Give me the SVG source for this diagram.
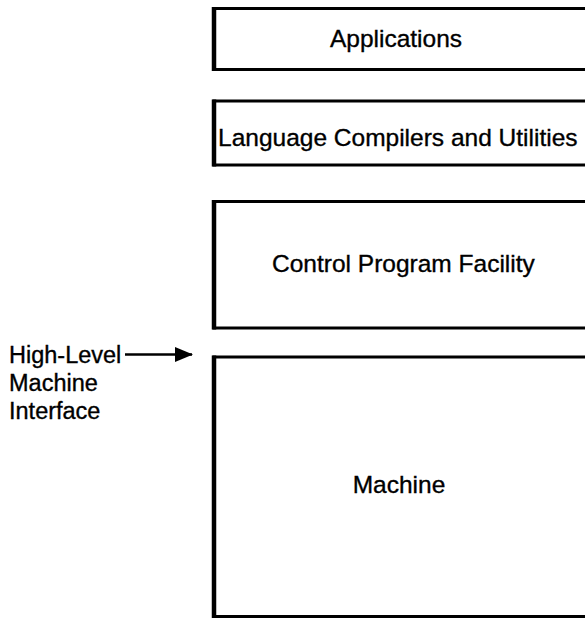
<svg xmlns="http://www.w3.org/2000/svg" width="585" height="618" viewBox="0 0 585 618">
  <style>
    .box { fill: #ffffff; stroke: #000000; stroke-width: 3; }
    .edge { stroke: #000000; stroke-width: 4.5; }
    .lbl { font-family: "Liberation Sans", Arial, sans-serif; font-size: 24.5px; fill: #000000; stroke: #000000; stroke-width: 0.35; }
    .side { font-size: 23.5px; }
    .link { stroke: #000000; stroke-width: 2.4; fill: none; }
  </style>
  <defs>
    <marker id="head" markerWidth="18" markerHeight="15" refX="17" refY="7.5" orient="auto" markerUnits="userSpaceOnUse">
      <path d="M0,0 L18,7.5 L0,15 Z" fill="#000000"/>
    </marker>
  </defs>
  <rect width="585" height="618" fill="#ffffff"/>

  <!-- layered system stack; boxes run off the right margin -->
  <g id="applications">
    <rect class="box" x="214" y="8.5" width="400" height="61"/>
    <line class="edge" x1="214" y1="7" x2="214" y2="71"/>
    <text class="lbl" x="396" y="47" text-anchor="middle">Applications</text>
  </g>
  <g id="compilers">
    <rect class="box" x="214" y="101" width="400" height="64"/>
    <line class="edge" x1="214" y1="99.5" x2="214" y2="166.5"/>
    <text class="lbl" x="218" y="146">Language Compilers and Utilities</text>
  </g>
  <g id="cpf">
    <rect class="box" x="214" y="201.5" width="400" height="126.5"/>
    <line class="edge" x1="214" y1="200" x2="214" y2="329.5"/>
    <text class="lbl" x="272" y="272">Control Program Facility</text>
  </g>
  <g id="machine">
    <rect class="box" x="214" y="357" width="400" height="259.5"/>
    <line class="edge" x1="214" y1="355.5" x2="214" y2="618"/>
    <text class="lbl" x="399" y="493" text-anchor="middle">Machine</text>
  </g>

  <!-- interface callout -->
  <g id="interface-label">
    <text class="lbl side" x="9" y="363">High-Level</text>
    <text class="lbl side" x="9" y="391">Machine</text>
    <text class="lbl side" x="9" y="419">Interface</text>
  </g>
  <g id="connectors">
    <line class="link" x1="125" y1="354.5" x2="192" y2="354.5" marker-end="url(#head)"/>
  </g>
</svg>
